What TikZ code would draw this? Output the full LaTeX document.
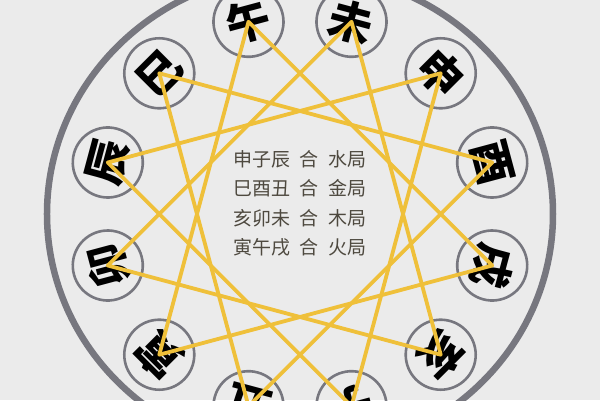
\documentclass[tikz,border=0pt]{standalone}
\usepackage{fontspec}
\newfontfamily\cjk{Noto Sans CJK SC}
\definecolor{bgcol}{HTML}{EBEBEB}
\definecolor{ringcol}{HTML}{77777F}
\definecolor{starcol}{HTML}{EFC03A}
\definecolor{txtcol}{HTML}{4E493F}
\tikzset{
  branch/.style={circle, draw=ringcol, line width=2.6pt, minimum size=70pt,
    inner sep=0pt, font=\cjk\bfseries\fontsize{44}{44}\selectfont},
  starline/.style={starcol, line width=3.8pt, line join=round, line cap=round},
  rulestext/.style={text=txtcol, align=center,
    font=\cjk\fontsize{19}{29.5}\selectfont},
}
\begin{document}
\begin{tikzpicture}[x=1pt,y=1pt]
% background, page size
\fill[bgcol] (-300,-186) rectangle (300,214);
\useasboundingbox (-300,-186) rectangle (300,214);

% outer ring
\draw[ringcol, line width=6.5pt] (0,0) ellipse (253 and 242);

% the twelve branches, tops turned outwards
\foreach \a/\n/\c in {105/wu/午, 75/wei/未, 45/shen/申, 15/you/酉,
  -15/xu/戌, -45/hai/亥, -75/zi/子, -105/chou/丑,
  -135/yin/寅, -165/mao/卯, 165/chen/辰, 135/si/巳}
\node[branch, rotate=\a-90] (\n) at (\a:199) {\c};

% the four triangles
\draw[starline] (shen.center) -- (zi.center) -- (chen.center) -- cycle;
\draw[starline] (si.center) -- (you.center) -- (chou.center) -- cycle;
\draw[starline] (hai.center) -- (mao.center) -- (wei.center) -- cycle;
\draw[starline] (yin.center) -- (wu.center) -- (xu.center) -- cycle;

% rules in the middle
\node[rulestext] (rules) at (0,10.5) {申子辰\enspace 合\enspace 水局\\
  巳酉丑\enspace 合\enspace 金局\\
  亥卯未\enspace 合\enspace 木局\\
  寅午戌\enspace 合\enspace 火局};

\end{tikzpicture}
\end{document}
